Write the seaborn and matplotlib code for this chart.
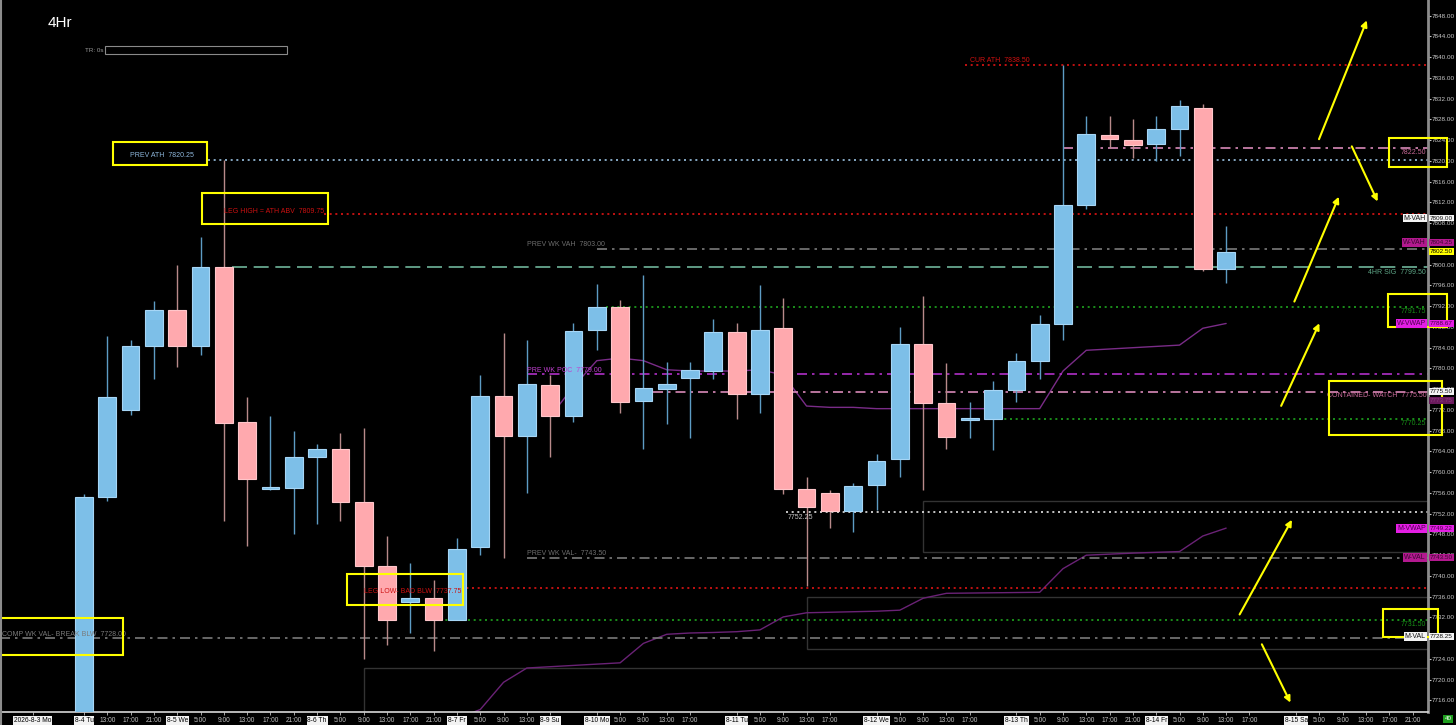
import numpy as np
import pandas as pd
import matplotlib
matplotlib.use("Agg")
import matplotlib.pyplot as plt
import matplotlib.transforms as mtransforms
from matplotlib.patches import Rectangle, FancyArrowPatch
import seaborn as sns

# 4hr bars, one per slot starting 8-4 Tu
opens  = [7711.00, 7755.25, 7772.00, 7784.25, 7791.25, 7784.25, 7799.50, 7769.75, 7756.75, 7757.00,
          7763.00, 7764.50, 7754.25, 7742.00, 7735.00, 7735.75, 7731.50, 7745.50, 7774.75, 7767.00,
          7776.75, 7770.75, 7787.50, 7791.75, 7773.75, 7776.00, 7778.25, 7779.50, 7787.00, 7775.00,
          7787.75, 7756.75, 7756.00, 7752.50, 7757.50, 7762.50, 7784.75, 7773.25, 7770.00, 7770.25,
          7775.75, 7781.50, 7788.50, 7811.50, 7825.00, 7824.00, 7823.25, 7826.25, 7830.25, 7799.25]
highs  = [7755.75, 7786.25, 7785.50, 7793.00, 7800.00, 7805.25, 7820.25, 7774.50, 7770.75, 7768.00,
          7765.50, 7767.50, 7768.50, 7747.75, 7742.50, 7739.25, 7747.25, 7778.75, 7786.75, 7785.50,
          7778.75, 7788.75, 7796.25, 7793.25, 7798.00, 7781.25, 7781.25, 7789.50, 7788.75, 7796.00,
          7793.50, 7759.00, 7756.50, 7758.00, 7763.50, 7788.00, 7794.00, 7781.00, 7773.50, 7777.50,
          7783.00, 7790.25, 7838.50, 7828.75, 7828.75, 7828.00, 7828.75, 7831.75, 7831.00, 7807.50]
lows   = [7709.00, 7754.50, 7771.00, 7778.00, 7780.25, 7782.50, 7750.50, 7745.75, 7756.50, 7748.00,
          7750.00, 7750.50, 7724.00, 7726.75, 7729.00, 7725.50, 7731.50, 7744.00, 7743.50, 7756.00,
          7763.00, 7769.75, 7783.50, 7771.50, 7764.50, 7769.25, 7766.50, 7778.00, 7770.25, 7771.50,
          7755.75, 7738.00, 7749.25, 7748.50, 7752.75, 7759.00, 7756.50, 7764.50, 7766.50, 7764.25,
          7773.50, 7778.00, 7785.50, 7810.75, 7822.50, 7820.50, 7820.00, 7821.00, 7798.75, 7796.50]
closes = [7755.25, 7774.50, 7784.25, 7791.25, 7784.25, 7799.50, 7769.50, 7758.75, 7757.00, 7763.00,
          7764.50, 7754.25, 7742.00, 7731.50, 7735.75, 7731.50, 7745.25, 7774.75, 7767.00, 7777.00,
          7770.75, 7787.25, 7791.75, 7773.50, 7776.25, 7777.00, 7779.75, 7787.00, 7775.00, 7787.50,
          7756.75, 7753.25, 7752.50, 7757.25, 7762.25, 7784.75, 7773.25, 7766.75, 7770.50, 7775.75,
          7781.50, 7788.50, 7811.50, 7825.25, 7824.25, 7823.00, 7826.25, 7830.50, 7799.25, 7802.50]

# weekly vwap from the sunday open, monthly vwap
wvwap_first = 20
wvwap = [7770.75, 7776.50, 7781.50, 7782.00, 7781.50, 7779.75, 7779.50, 7779.50, 7779.50, 7779.75,
         7778.75, 7772.75, 7772.50, 7772.50, 7772.25, 7772.25, 7772.25, 7772.25, 7772.25, 7772.25,
         7772.25, 7772.25, 7779.50, 7783.50, 7783.75, 7784.00, 7784.25, 7784.50, 7787.75, 7788.67]
mvwap_first = 16
mvwap = [7712.50, 7714.25, 7719.50, 7722.25, 7722.50, 7722.75, 7723.00, 7723.25, 7727.00, 7728.75,
         7729.00, 7729.10, 7729.25, 7729.60, 7732.10, 7732.90, 7733.00, 7733.10, 7733.20, 7733.40,
         7735.70, 7736.65, 7736.70, 7736.75, 7736.80, 7736.85, 7741.40, 7744.00, 7744.20, 7744.40,
         7744.55, 7744.70, 7747.70, 7749.22]

tick_slots = [-2.2, 0, 1, 2, 3, 4, 5, 6, 7, 8, 9, 10, 11, 12, 13, 14, 15, 16, 17, 18, 19, 20,
              22, 23, 24, 25, 26, 28, 29, 30, 31, 32, 34, 35, 36, 37, 38, 40, 41, 42, 43, 44, 45,
              46, 47, 48, 49, 50, 52, 53, 54, 55, 56, 57]
tick_text = ["2026-8-3 Mo", "8-4 Tu", "13:00", "17:00", "21:00", "8-5 We", "5:00", "9:00", "13:00",
             "17:00", "21:00", "8-6 Th", "5:00", "9:00", "13:00", "17:00", "21:00", "8-7 Fr", "5:00",
             "9:00", "13:00", "8-9 Su", "8-10 Mo", "5:00", "9:00", "13:00", "17:00", "8-11 Tu", "5:00",
             "9:00", "13:00", "17:00", "8-12 We", "5:00", "9:00", "13:00", "17:00", "8-13 Th", "5:00",
             "9:00", "13:00", "17:00", "21:00", "8-14 Fr", "5:00", "9:00", "13:00", "17:00", "8-15 Sa",
             "5:00", "9:00", "13:00", "17:00", "21:00"]

level_price = [7838.50, 7822.50, 7820.25, 7809.75, 7803.00, 7799.50, 7791.75, 7779.00,
               7775.50, 7770.25, 7752.25, 7743.50, 7737.75, 7731.50, 7728.00]
level_text = ["CUR ATH  7838.50", "7822.50", "PREV ATH  7820.25", "LEG HIGH = ATH ABV  7809.75",
              "PREV WK VAH  7803.00", "4HR SIG  7799.50", "7791.75", "PRE WK POC  7779.00",
              "CONTAINED- WATCH  7775.50", "7770.25", "7752.25", "PREV WK VAL-  7743.50",
              "LEG LOW- BAD BLW  7737.75", "7731.50", "COMP WK VAL- BREAK BLW  7728.00"]

tag_price = [7809.00, 7804.25, 7802.50, 7788.67, 7775.50, 7773.75, 7749.22, 7743.50, 7728.25]
tag_name = ["M-VAH", "W-VAH", "", "W-VWAP", "", "", "M-VWAP", "W-VAL", "M-VAL"]

# ---- styles -------------------------------------------------------------
RED, LBLUE, PINKL, GRAY = "#e01414", "#9cc4e4", "#d98ab8", "#7a7a7a"
TEAL, GREEN, MAG, WHITE = "#6fb59a", "#1fa51f", "#b030c8", "#e6e6e6"
DOT, DASHDOT, DASH = (0, (1.2, 2.2)), (0, (6, 3, 1.5, 3)), (0, (9, 4))
# start slot, line colour, style, label x (None = right edge), label colour, label dy (pt)
level_style = [
    (37.8, RED, DOT, 38.0, "#d01010", 3.5),
    (42.0, PINKL, DASHDOT, None, "#c86a98", -3.0),
    (5.3, LBLUE, DOT, 1.97, "#8fb8dd", 3.0),
    (10.3, RED, DOT, 6.0, "#cc1010", 2.0),
    (22.0, GRAY, DASHDOT, 19.0, "#6e6e6e", 3.0),
    (6.35, TEAL, DASH, None, "#5fa888", -3.5),
    (22.4, GREEN, DOT, None, "#179017", -3.0),
    (19.0, MAG, DASHDOT, 19.0, "#c040d0", 2.0),
    (24.4, PINKL, DASHDOT, None, "#cc6e9e", -3.0),
    (39.0, GREEN, DOT, None, "#179017", -3.0),
    (30.1, WHITE, DOT, 30.2, "#c8c8c8", -4.0),
    (19.0, GRAY, DASHDOT, 19.0, "#6e6e6e", 3.0),
    (15.9, RED, DOT, 12.0, "#cc1010", -2.5),
    (15.0, GREEN, DOT, None, "#179017", -3.0),
    (-3.6, GRAY, DASHDOT, -3.52, "#7a7a7a", 3.0),
]
tag_style = [("#f4f4f4", "#101010"), ("#b3198f", "#3a0830"), ("#ffff00", "#000000"),
             ("#e41ee4", "#4a004a"), ("#f4f4f4", "#101010"), ("#6a1a5c", "#8a3a7c"),
             ("#e41ee4", "#4a004a"), ("#b3198f", "#3a0830"), ("#f4f4f4", "#101010")]
# yellow boxes (slot0, slot1, price0, price1) and arrows drawn on the chart
yellow_boxes = [(1.24, 5.28, 7819.2, 7823.65), (5.06, 10.47, 7807.8, 7813.8),
                (55.98, 58.47, 7818.8, 7824.4), (55.94, 58.47, 7788.0, 7794.35),
                (53.41, 58.26, 7767.2, 7777.6), (55.73, 58.09, 7728.2, 7733.6),
                (11.28, 16.26, 7734.4, 7740.4), (-3.6, 1.67, 7724.8, 7731.9)]
yellow_arrows = [((52.94, 7823.7), (55.08, 7847.6)), ((54.34, 7823.3), (55.55, 7811.7)),
                 ((51.88, 7792.4), (53.88, 7813.6)), ((51.31, 7772.3), (53.05, 7789.2)),
                 ((49.52, 7732.1), (51.88, 7751.3)), ((50.48, 7727.3), (51.81, 7715.1))]
gray_zones = [(12, 7700.0, 7722.2), (31, 7725.85, 7736.0), (36, 7744.6, 7754.5)]

sns.set_theme(style="dark", rc={"axes.facecolor": "black", "figure.facecolor": "black",
                                "axes.grid": False})
plt.rcParams["font.family"] = ["Liberation Sans", "DejaVu Sans"]

W, H = 1456, 725
fig = plt.figure(figsize=(W / 100, H / 100), dpi=100)
ax = fig.add_axes([0, 13 / H, 1428 / W, 712 / H])
XMIN, XMAX = -3.604, 57.66
ax.set_xlim(XMIN, XMAX)
ax.set_ylim(7713.77, 7851.03)

# candles
df = pd.DataFrame({"o": opens, "h": highs, "l": lows, "c": closes})
df["slot"] = np.arange(len(df))
up = df["c"] >= df["o"]
body_col = np.where(up, "#7dbfe8", "#ffa9ae")
edge_col = np.where(up, "#a6d6f6", "#ffc6ca")
wick_col = np.where(up, "#5d9cc4", "#b88a8a")
ax.vlines(df["slot"], df["l"], df["h"], colors=wick_col, lw=1.0, zorder=3)
height = (df["c"] - df["o"]).where((df["c"] - df["o"]).abs() > 0.3, 0.3)
ax.bar(df["slot"], height, bottom=df["o"], width=0.76, color=body_col,
       edgecolor=edge_col, linewidth=0.8, zorder=4)

# vwap lines
wv = pd.DataFrame({"slot": np.arange(wvwap_first, wvwap_first + len(wvwap)), "v": wvwap})
mv = pd.DataFrame({"slot": np.arange(mvwap_first, mvwap_first + len(mvwap)), "v": mvwap})
sns.lineplot(data=wv, x="slot", y="v", ax=ax, color="#7a2c88", lw=1.0, zorder=2)
sns.lineplot(data=mv, x="slot", y="v", ax=ax, color="#6a2276", lw=1.0, zorder=2)

# faint zones
for s0, p0, p1 in gray_zones:
    ax.add_patch(Rectangle((s0, p0), XMAX + 1 - s0, p1 - p0, fill=False,
                           ec="#333333", lw=1.0, zorder=1))

# level lines + labels
LFS = 5.0
for p, txt, (s0, col, ls, lx, tcol, dy) in zip(level_price, level_text, level_style):
    ax.hlines(p, s0, XMAX, colors=col, linestyles=[ls], lw=1.2, zorder=2)
    if lx is None:
        ax.annotate(txt, (XMAX - 0.08, p), xytext=(0, dy), textcoords="offset points",
                    ha="right", va="center", fontsize=LFS, color=tcol, zorder=6)
    else:
        ax.annotate(txt, (lx, p), xytext=(0, dy), textcoords="offset points",
                    ha="left", va="center", fontsize=LFS, color=tcol, zorder=6)

# yellow markup
for s0, s1, p0, p1 in yellow_boxes:
    ax.add_patch(Rectangle((s0, p0), s1 - s0, p1 - p0, fill=False, ec="#ffff00",
                           lw=1.5, zorder=7, clip_on=False))
for a, b in yellow_arrows:
    ax.add_patch(FancyArrowPatch(a, b, arrowstyle="-|>", mutation_scale=9, color="#ffff00",
                                 lw=1.5, zorder=7, clip_on=False))

# axes styling
for side in ["top", "left"]:
    ax.spines[side].set_visible(False)
ax.spines["right"].set_color("#8c8c8c")
ax.spines["right"].set_linewidth(2)
ax.spines["bottom"].set_color("#d8d8d8")
ax.spines["bottom"].set_linewidth(1.2)
yt = np.arange(7716, 7849, 4)
ax.yaxis.tick_right()
ax.set_yticks(yt, [f"{v:.2f}" for v in yt])
ax.tick_params(axis="y", colors="#c8c8c8", labelsize=4.6, length=2, width=0.8, pad=0.5,
               right=True, left=False)
ax.set_xticks(tick_slots, tick_text)
ax.tick_params(axis="x", colors="#c0c0c0", labelsize=4.8, length=2, width=0.6, pad=1.5,
               bottom=True)
for lab in ax.get_xticklabels():
    if "-" in lab.get_text():
        lab.set_color("#000000")
        lab.set_bbox(dict(facecolor="#f2f2f2", edgecolor="none", pad=0.6))
ax.set_xlabel("")
ax.set_ylabel("")

# price tags on the right scale
tr = mtransforms.blended_transform_factory(ax.transAxes, ax.transData)
for p, name, (bg, fg) in zip(tag_price, tag_name, tag_style):
    ax.text(1.0012, p, f"{p:.2f}", transform=tr, ha="left", va="center", fontsize=4.6,
            color=fg, zorder=8, clip_on=False,
            bbox=dict(facecolor=bg, edgecolor="none", pad=0.7))
    if name:
        ax.text(0.9985, p, name, transform=tr, ha="right", va="center", fontsize=5.0,
                color=fg, zorder=8, clip_on=False,
                bbox=dict(facecolor=bg, edgecolor="none", pad=0.7))

# header bits
fig.add_artist(plt.Line2D([0.5 / W, 0.5 / W], [0, 1], color="#8c8c8c", lw=1.5))
fig.text(48 / W, 1 - 23 / H, "4Hr", color="white", fontsize=11, va="center")
fig.text(85 / W, 1 - 50 / H, "TR: 0s", color="#9a9a9a", fontsize=4.5, va="center")
fig.add_artist(Rectangle((105 / W, 1 - 54 / H), 182 / W, 8 / H, fill=False,
                         ec="#8a8a8a", lw=0.8, transform=fig.transFigure))
fig.text(1448 / W, 1 - 719 / H, "40", color="white", fontsize=4.5, ha="center", va="center",
         bbox=dict(facecolor="#1e9e1e", edgecolor="none", pad=0.8))

fig.savefig("out.png", dpi=100, facecolor="black")
